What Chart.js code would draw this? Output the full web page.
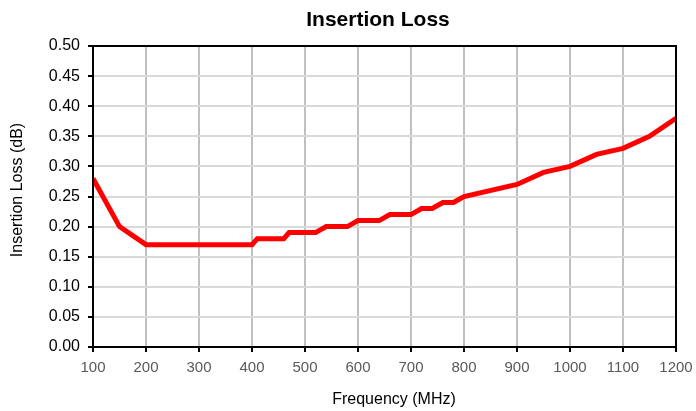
<!DOCTYPE html>
<html>
<head>
<meta charset="utf-8">
<script src="https://cdn.jsdelivr.net/npm/chart.js@4.4.0/dist/chart.umd.min.js"></script>
<style>
  html, body { margin: 0; padding: 0; background: #fff; }
  #wrap { width: 696px; height: 411px; }
</style>
</head>
<body>
<div id="wrap"><canvas id="myChart" width="696" height="411"></canvas></div>
<script>
// data
let freqs = [100, 150, 200, 300, 400, 410, 460, 470, 520, 540, 580, 600, 640, 660, 700, 720, 740, 760, 780, 800, 900, 950, 1000, 1050, 1100, 1150, 1200];
let loss = [0.28, 0.20, 0.17, 0.17, 0.17, 0.18, 0.18, 0.19, 0.19, 0.20, 0.20, 0.21, 0.21, 0.22, 0.22, 0.23, 0.23, 0.24, 0.24, 0.25, 0.27, 0.29, 0.30, 0.32, 0.33, 0.35, 0.38];

let chartTitle = 'Insertion Loss';
let xTitle = 'Frequency (MHz)';
let yTitle = 'Insertion Loss (dB)';

const FONT = '"Liberation Sans", Arial, sans-serif';

// titles + box around the plot
const extras = {
    id: 'extras',
    afterDraw(chart) {
        const c = chart.ctx;
        const a = chart.chartArea;
        c.save();
        c.strokeStyle = '#000';
        c.lineWidth = 2;
        c.strokeRect(a.left, a.top, a.right - a.left, a.bottom - a.top);

        c.fillStyle = '#000';
        c.textAlign = 'center';
        c.textBaseline = 'middle';
        c.font = 'bold 21px ' + FONT;
        c.fillText(chartTitle, 378, 20);

        c.font = '16px ' + FONT;
        c.fillText(xTitle, 394, 400);

        c.translate(18, 190);
        c.rotate(-Math.PI / 2);
        c.fillText(yTitle, 0, 0);
        c.restore();
    }
};

new Chart(document.getElementById('myChart'), {
    type: 'line',
    data: {
        datasets: [{
            data: freqs.map((f, i) => ({ x: f, y: loss[i] })),
            borderColor: '#ff0000',
            borderWidth: 5,
            pointRadius: 0,
            tension: 0,
            fill: false
        }]
    },
    options: {
        responsive: false,
        animation: false,
        layout: { padding: { top: 46, right: 20, left: 0, bottom: 0 } },
        plugins: { legend: { display: false }, title: { display: false }, tooltip: { enabled: false } },
        scales: {
            x: {
                type: 'linear',
                min: 100,
                max: 1200,
                afterFit(scale) { scale.height = 64; scale.paddingRight = 0; scale.paddingLeft = 0; },
                ticks: {
                    stepSize: 100,
                    color: '#595959',
                    font: { family: FONT, size: 15 },
                    maxRotation: 0,
                    padding: 7,
                    callback: v => String(v)
                },
                grid: { color: '#c0c0c0', lineWidth: 2, tickColor: '#000', tickLength: 5, tickWidth: 2 },
                border: { color: '#000', width: 2 }
            },
            y: {
                min: 0,
                max: 0.5,
                afterFit(scale) { scale.width = 93; },
                ticks: {
                    stepSize: 0.05,
                    color: '#000',
                    font: { family: FONT, size: 16 },
                    padding: 8,
                    callback: v => v.toFixed(2)
                },
                grid: { color: '#d9d9d9', lineWidth: 2, tickColor: '#000', tickLength: 5, tickWidth: 2 },
                border: { color: '#000', width: 2 }
            }
        }
    },
    plugins: [extras]
});
</script>
</body>
</html>
